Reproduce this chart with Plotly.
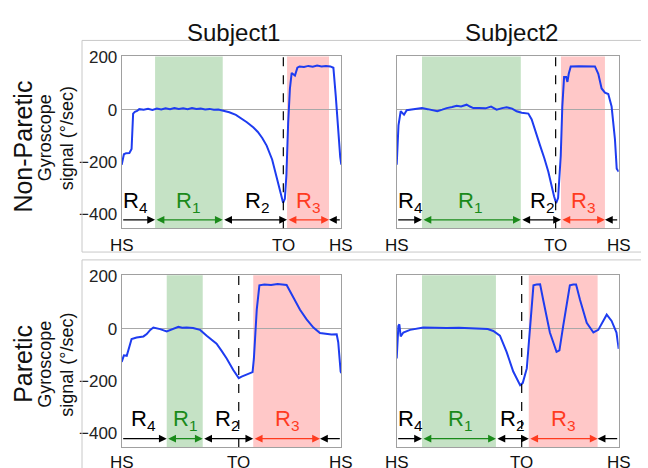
import plotly.graph_objects as go

# ---------------- data (percent of gait cycle, gyroscope deg/s) ----------------
np_s1_pct = [0, 1.0, 2.0, 3.5, 4.5, 5.2, 6, 7, 8, 10, 12, 14, 16, 18, 20, 22, 24, 26, 28, 30,
             32, 34, 36, 38, 40, 42, 44, 46, 49, 52, 55, 57, 60, 62, 64, 66, 68.5, 70.6, 72.5,
             73.5, 74.3, 75, 75.8, 76.6, 77.4, 78.2, 78.9, 80, 81, 83, 85, 87, 89, 91, 93, 95,
             96.4, 97.5, 98.5, 99.5, 100]
np_s1_gyro = [-210, -170, -166, -165, -150, -15, -8, -5, 2, 0, 3, -1, 4, 1, 5, 2, 6, 3, 5, 2,
              6, 3, 4, 1, 3, 0, 1, -3, -10, -20, -35, -48, -68, -85, -108, -137, -190, -262, -330,
              -355, -340, -250, -50, 80, 140, 135, 130, 160, 165, 163, 167, 164, 168, 165, 167, 165,
              160, 50, -80, -180, -210]

np_s2_pct = [0, 0.8, 1.8, 2.6, 3.3, 4.5, 7, 9, 11.4, 14, 16, 18.3, 20.5, 22.5, 25, 27, 29, 31.5,
             33, 34.5, 37, 40, 42.5, 45, 47.5, 49.5, 52, 54, 56.3, 59.3, 60.8, 62.5, 64.6, 66.5,
             68.3, 70.9, 71.8, 72.7, 73.9, 74.6, 75.4, 76.3, 76.9, 77.5, 78.4, 82, 86, 89.3, 90.8,
             92.3, 93.8, 95.3, 96.8, 98.3, 99.1, 100]
np_s2_gyro = [-210, -60, -6, -12, -19, -2, 0, 4, 6, 2, -2, -6, 0, 6, 10, 15, 12, 19, 12, 6, 6,
              5, 12, 0, 6, 9, 4, -6, -12, -15, -37, -85, -137, -185, -237, -331, -356, -337, -175,
              12, 125, 125, 106, 137, 165, 166, 166, 165, 137, 81, 65, 60, 12, -112, -225, -237]

p_s1_pct = [0, 1, 2.3, 3.3, 4.5, 6.8, 9.9, 11.4, 13, 14.4, 16, 17.5, 20.5, 23.5, 25.8, 27.5,
            29.6, 32.5, 35.7, 38.7, 41, 43.2, 45.5, 47.8, 50.8, 53.3, 54.6, 56.9, 59.6, 60.2,
            61.5, 62.7, 65, 68, 71, 75.1, 78.1, 81.2, 84.2, 87.3, 90.3, 93.3, 95.5, 97.9, 98.6,
            99.7, 100]
p_s1_gyro = [-127, -102, -104, -70, -40, -34, -30, -21, -5, 4, 2, -2, -11, 0, 7, 3, 4, 2, -5,
             -27, -42, -58, -85, -114, -158, -189, -183, -174, -166, -114, 72, 165, 168, 166, 170,
             166, 122, 72, 35, 4, -17, -21, -23, -22, -52, -164, -170]

p_s2_pct = [0, 0.75, 1.2, 1.8, 3, 6, 12, 17, 22.5, 28, 33, 37.5, 41, 43.5, 46.5, 49.5, 52.5,
            55.6, 56.8, 58.6, 60, 61.6, 63, 64.6, 66, 69, 72, 73.3, 75, 78, 79.5, 80.8, 82.6,
            85.6, 88.6, 90.8, 94.6, 96.8, 99, 100]
p_s2_gyro = [-114, 10, 16, -30, -15, -5, 4, 2, 2, 3, 1, 0, -2, -9, -27, -89, -164, -216, -207,
             -152, 10, 165, 168, 169, 109, -15, -89, -83, 10, 165, 168, 168, 109, 22, -15, -5, 53,
             29, -15, -77]

# regions: [green start, green end, TO, red start, red end]
np_s1_events = [15.2, 46.0, 73.6, 75.3, 94.4]
np_s2_events = [11.4, 55.9, 71.6, 74.0, 93.8]
p_s1_events = [20.5, 36.9, 53.3, 59.9, 90.3]
p_s2_events = [11.4, 44.7, 56.3, 59.5, 90.5]

# label x-positions for R4, R1, R2, R3
np_s1_labx = [6.1, 30.2, 61.5, 84.8]
np_s2_labx = [6.0, 33.0, 65.3, 84.0]
p_s1_labx = [9.8, 28.8, 47.8, 75.1]
p_s2_labx = [6.0, 28.5, 51.8, 75.0]

row_labels = ["Non-Paretic", "Paretic"]
col_titles = ["Subject1", "Subject2"]
y_tickvals = [-400, -200, 0, 200]

# ---------------- figure ----------------
FONT = "Arial, Liberation Sans, sans-serif"
W, H = 648, 468
LINE_BLUE = "#1e3cf0"
GREEN_FILL = "#c5e2c5"
RED_FILL = "#ffc8c8"
GREEN = "#1a8a1a"
RED = "#ff3b1f"
SEP = "#c8c8c8"

xdom = [[121.7 / W, 341.3 / W], [396.7 / W, 618.7 / W]]
ydom = [[1 - 224.0 / H, 1 - 49.3 / H], [1 - 446.7 / H, 1 - 272.0 / H]]

panels = [
    (0, 0, np_s1_pct, np_s1_gyro, np_s1_events, np_s1_labx),
    (0, 1, np_s2_pct, np_s2_gyro, np_s2_events, np_s2_labx),
    (1, 0, p_s1_pct, p_s1_gyro, p_s1_events, p_s1_labx),
    (1, 1, p_s2_pct, p_s2_gyro, p_s2_events, p_s2_labx),
]

fig = go.Figure()
shapes = []
annotations = []
layout_axes = {}

hs_y = [1 - 241.7 / H, 1 - 462.0 / H]
LAB_Y = [-352, -348]
ARROW_Y = -420

for i, (r, c, xs, ys, ev, labx) in enumerate(panels):
    n = i + 1
    xa = "x" if n == 1 else f"x{n}"
    ya = "y" if n == 1 else f"y{n}"
    xkey = "xaxis" if n == 1 else f"xaxis{n}"
    ykey = "yaxis" if n == 1 else f"yaxis{n}"
    layout_axes[xkey] = dict(domain=xdom[c], range=[0, 100], anchor=ya, showgrid=False,
                             zeroline=False, showticklabels=False, ticks="",
                             showline=True, mirror=True, linecolor="#a0a0a0", linewidth=1)
    layout_axes[ykey] = dict(domain=ydom[r], range=[-452, 203], anchor=xa, showgrid=False,
                             zeroline=True, zerolinecolor="#a8a8a8", zerolinewidth=1,
                             tickvals=y_tickvals, ticks="", showticklabels=(c == 0),
                             tickfont=dict(family=FONT, size=17, color="#222"),
                             showline=True, mirror=True, linecolor="#a0a0a0", linewidth=1)

    gs, ge, to, rs, re_ = ev
    shapes.append(dict(type="rect", xref=xa, yref=f"{ya} domain", x0=gs, x1=ge, y0=0, y1=1,
                       fillcolor=GREEN_FILL, line=dict(width=0), layer="below"))
    shapes.append(dict(type="rect", xref=xa, yref=f"{ya} domain", x0=rs, x1=re_, y0=0, y1=1,
                       fillcolor=RED_FILL, line=dict(width=0), layer="below"))
    shapes.append(dict(type="line", xref=xa, yref=f"{ya} domain", x0=to, x1=to, y0=0, y1=1,
                       line=dict(color="black", width=1.2, dash="dash")))

    fig.add_trace(go.Scatter(x=xs, y=ys, xaxis=xa, yaxis=ya, mode="lines",
                             line=dict(color=LINE_BLUE, width=2), showlegend=False,
                             hoverinfo="skip"))

    def arrow(x_from, x_to, color, both):
        annotations.append(dict(xref=xa, yref=ya, axref=xa, ayref=ya, x=x_to, y=ARROW_Y,
                                ax=x_from, ay=ARROW_Y, text="", showarrow=True,
                                arrowhead=2, arrowsize=1.3, arrowwidth=1.2, arrowcolor=color,
                                arrowside="end+start" if both else "end",
                                standoff=0, startstandoff=0, startarrowhead=2,
                                startarrowsize=1.3))

    arrow(0, gs, "black", False)
    arrow(gs, ge, GREEN, True)
    arrow(ge, rs, "black", True)
    arrow(rs, re_, RED, True)
    arrow(100, re_, "black", False)

    texts = [("R<sub>4</sub>", "black"), ("R<sub>1</sub>", GREEN),
             ("R<sub>2</sub>", "black"), ("R<sub>3</sub>", RED)]
    for (t, col), lx in zip(texts, labx):
        annotations.append(dict(xref=xa, yref=ya, x=lx, y=LAB_Y[r], text=t, showarrow=False,
                                font=dict(family=FONT, size=22, color=col),
                                xanchor="center", yanchor="middle"))

    for t, px in (("HS", 0), ("TO", to), ("HS", 100)):
        annotations.append(dict(xref=xa, yref="paper", x=px, y=hs_y[r], text=t,
                                showarrow=False, font=dict(family=FONT, size=17, color="#111"),
                                xanchor="center", yanchor="middle"))

# column titles
for t, cx in zip(col_titles, [233.3 / W, 511.8 / W]):
    annotations.append(dict(xref="paper", yref="paper", x=cx, y=1 - 25.0 / H, text=t,
                            showarrow=False, font=dict(family=FONT, size=24, color="#111"),
                            xanchor="center", yanchor="middle"))

# row labels
for t, cy in zip(row_labels, [141.0, 362.0]):
    annotations.append(dict(xref="paper", yref="paper", x=23.0 / W, y=1 - cy / H, text=t,
                            showarrow=False, textangle=-90,
                            font=dict(family=FONT, size=25, color="#111"),
                            xanchor="center", yanchor="middle"))
for cy in [132.5, 363.0]:
    annotations.append(dict(xref="paper", yref="paper", x=45.0 / W, y=1 - cy / H,
                            text="Gyroscope", showarrow=False, textangle=-90,
                            font=dict(family=FONT, size=18, color="#111"),
                            xanchor="center", yanchor="middle"))
    annotations.append(dict(xref="paper", yref="paper", x=67.0 / W, y=1 - cy / H,
                            text="signal (°/sec)", showarrow=False, textangle=-90,
                            font=dict(family=FONT, size=18, color="#111"),
                            xanchor="center", yanchor="middle"))

# separator lines
def pline(x0, y0, x1, y1):
    shapes.append(dict(type="line", xref="paper", yref="paper", x0=x0 / W, x1=x1 / W,
                       y0=1 - y0 / H, y1=1 - y1 / H, line=dict(color=SEP, width=1)))

pline(82, 33, 641, 33)
pline(82, 33, 82, 248.3)
pline(82, 248.3, 641, 248.3)
pline(82, 256.3, 641, 256.3)
pline(82, 256.3, 82, 468)

fig.update_layout(width=W, height=H, margin=dict(l=0, r=0, t=0, b=0),
                  paper_bgcolor="white", plot_bgcolor="white", showlegend=False,
                  shapes=shapes, annotations=annotations, **layout_axes)

fig.write_html("out.html")
